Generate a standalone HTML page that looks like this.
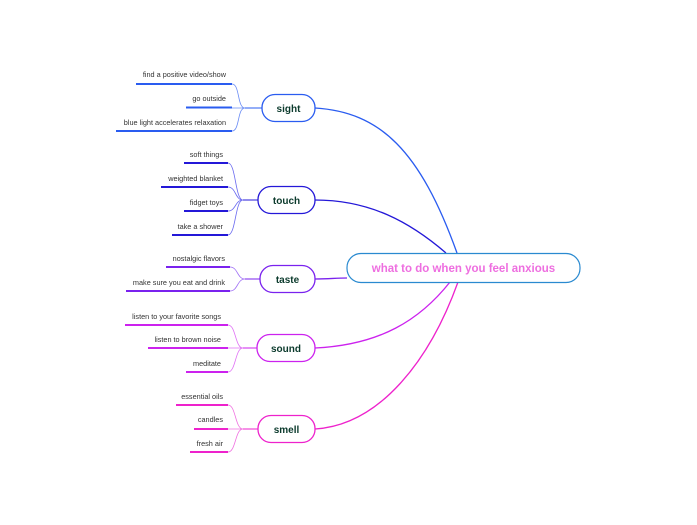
<!DOCTYPE html>
<html><head><meta charset="utf-8"><style>
html,body{margin:0;padding:0;background:#fff;}
svg text{font-family:"Liberation Sans",sans-serif;}
.l{font-size:7.3px;fill:#333;text-anchor:end;}
.n{font-size:10px;font-weight:bold;fill:#0b3a2c;text-anchor:middle;}
</style></head><body>
<svg width="697" height="520" viewBox="0 0 697 520" xmlns="http://www.w3.org/2000/svg" fill="none">
<!-- main connectors -->
<path d="M315,108 C380,112 420,150 457,253" stroke="#2a5cf0" stroke-width="1.3"/>
<path d="M315,200 C370,200 410,222 446,253" stroke="#2418d8" stroke-width="1.3"/>
<path d="M315,279 C330,279 335,278 347,278" stroke="#7a22ee" stroke-width="1.3"/>
<path d="M315,348 C380,345 420,320 450,282" stroke="#cc22ee" stroke-width="1.3"/>
<path d="M315,429 C380,425 430,360 458,282" stroke="#ee22cc" stroke-width="1.3"/>
<!-- central -->
<rect x="347" y="253.5" width="233" height="29" rx="14" fill="#fff" stroke="#2a8ad0" stroke-width="1.2"/>
<text x="463.5" y="272" style="font-size:11.5px;font-weight:bold;fill:#ee6ee0;text-anchor:middle">what to do when you feel anxious</text>

<!-- sight -->
<g stroke="#2a5cf0">
<rect x="262" y="94.5" width="53" height="27" rx="13" fill="#fff" stroke-width="1.3"/>
<path d="M262,108 H245" stroke-width="1"/>
<path d="M245,108 C237,108 240,84 232,84 M245,108 H232 M245,108 C237,108 240,131 232,131" stroke-width="0.8" stroke="#6a8cf5"/>
<path d="M136,84 H232 M186,107.5 H232 M116,131 H232" stroke-width="2"/>
</g>
<text class="n" x="288.5" y="112">sight</text>
<text class="l" x="226" y="77">find a positive video/show</text>
<text class="l" x="226" y="101">go outside</text>
<text class="l" x="226" y="125">blue light accelerates relaxation</text>

<!-- touch -->
<g stroke="#2418d8">
<rect x="258" y="186.5" width="57" height="27" rx="13" fill="#fff" stroke-width="1.3"/>
<path d="M258,200 H243" stroke-width="1"/>
<path d="M243,200 C235,200 236,163 228,163 M243,200 C235,200 236,187 228,187 M243,200 C235,200 236,211 228,211 M243,200 C235,200 236,235 228,235" stroke-width="0.8" stroke="#6a6af0"/>
<path d="M184,163 H228 M161,187 H228 M184,211 H228 M172,235 H228" stroke-width="2"/>
</g>
<text class="n" x="286.5" y="204">touch</text>
<text class="l" x="223" y="157">soft things</text>
<text class="l" x="223" y="181">weighted blanket</text>
<text class="l" x="223" y="205">fidget toys</text>
<text class="l" x="223" y="229">take a shower</text>

<!-- taste -->
<g stroke="#7a22ee">
<rect x="260" y="265.5" width="55" height="27" rx="13" fill="#fff" stroke-width="1.3"/>
<path d="M260,279 H245" stroke-width="1"/>
<path d="M245,279 C237,279 238,267 230,267 M245,279 C237,279 238,291 230,291" stroke-width="0.8" stroke="#a070f5"/>
<path d="M166,267 H230 M126,291 H230" stroke-width="2"/>
</g>
<text class="n" x="287.5" y="283">taste</text>
<text class="l" x="225" y="261">nostalgic flavors</text>
<text class="l" x="225" y="285">make sure you eat and drink</text>

<!-- sound -->
<g stroke="#cc22ee">
<rect x="257" y="334.5" width="58" height="27" rx="13" fill="#fff" stroke-width="1.3"/>
<path d="M257,348 H243" stroke-width="1"/>
<path d="M243,348 C235,348 236,325 228,325 M243,348 H228 M243,348 C235,348 236,372 228,372" stroke-width="0.8" stroke="#e070f5"/>
<path d="M125,325 H228 M148,348 H228 M186,372 H228" stroke-width="2"/>
</g>
<text class="n" x="286" y="352">sound</text>
<text class="l" x="221" y="319">listen to your favorite songs</text>
<text class="l" x="221" y="342">listen to brown noise</text>
<text class="l" x="221" y="366">meditate</text>

<!-- smell -->
<g stroke="#ee22cc">
<rect x="258" y="415.5" width="57" height="27" rx="13" fill="#fff" stroke-width="1.3"/>
<path d="M258,429 H243" stroke-width="1"/>
<path d="M243,429 C235,429 236,405 228,405 M243,429 H228 M243,429 C235,429 236,452 228,452" stroke-width="0.8" stroke="#f070e0"/>
<path d="M176,405 H228 M194,429 H228 M190,452 H228" stroke-width="2"/>
</g>
<text class="n" x="286.5" y="433">smell</text>
<text class="l" x="223" y="399">essential oils</text>
<text class="l" x="223" y="422">candles</text>
<text class="l" x="223" y="446">fresh air</text>
</svg>
</body></html>
